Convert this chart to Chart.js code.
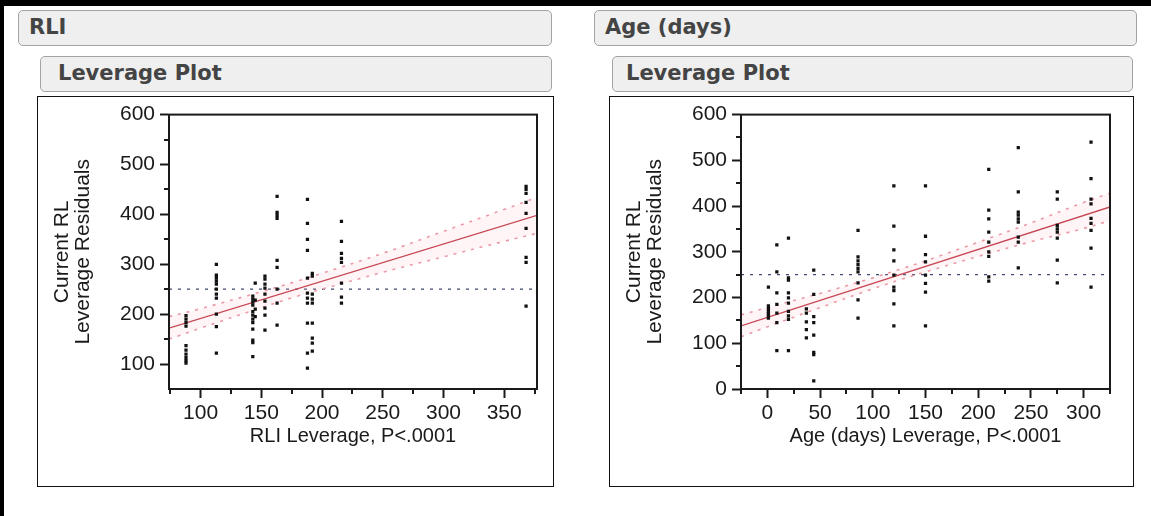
<!DOCTYPE html>
<html>
<head>
<meta charset="utf-8">
<script src="https://cdn.jsdelivr.net/npm/chart.js@4.4.1/dist/chart.umd.min.js"></script>
<style>
  html, body { margin: 0; padding: 0; background: #fff; }
  body { width: 1151px; height: 516px; position: relative; overflow: hidden; }
  .topbar { position: absolute; left: 0; top: 0; width: 1151px; height: 6px; background: #000; }
  .leftbar { position: absolute; left: 0; top: 0; width: 4px; height: 516px; background: #000; }
  .hdr { position: absolute; box-sizing: border-box; height: 36px; background: #efefef; border: 1px solid #a3a3a3;
         border-radius: 5px; font: bold 21px "DejaVu Sans", sans-serif; color: #444; line-height: 33px; }
  .frame { position: absolute; box-sizing: border-box; border: 1px solid #111; background: #fff; }
  .frame canvas { position: absolute; left: 0; top: 0; }
</style>
</head>
<body>
<div class="topbar"></div>
<div class="leftbar"></div>

<div class="hdr" style="left:18px; top:10px; width:534px; padding-left:10px;">RLI</div>
<div class="hdr" style="left:40px; top:56px; width:512px; padding-left:17px;">Leverage Plot</div>
<div class="frame" style="left:37px; top:96px; width:517px; height:391px;">
  <canvas id="rliChart" width="515" height="389"></canvas>
</div>

<div class="hdr" style="left:594px; top:10px; width:543px; padding-left:10px;">Age (days)</div>
<div class="hdr" style="left:612px; top:56px; width:521px; padding-left:13px;">Leverage Plot</div>
<div class="frame" style="left:609px; top:96px; width:525px; height:391px;">
  <canvas id="ageChart" width="523" height="389"></canvas>
</div>

<script>
// RLI leverage plot: x positions of the point columns and the residuals in each column
const rliLev = [88, 113, 143, 145, 153, 163, 188, 192, 216, 368];
const rliResid = [
  [197, 190, 183, 176, 137, 128, 120, 113, 107, 102],
  [300, 278, 272, 266, 260, 250, 240, 232, 200, 175, 122],
  [236, 230, 224, 218, 205, 198, 190, 183, 170, 148, 143, 115],
  [262, 228, 210, 195],
  [276, 270, 260, 252, 240, 226, 212, 198, 168],
  [436, 404, 398, 392, 308, 294, 250, 222, 178],
  [430, 382, 350, 328, 272, 242, 232, 222, 182, 122, 92],
  [282, 276, 240, 230, 222, 182, 152, 142, 126],
  [386, 346, 322, 312, 304, 262, 234, 222],
  [456, 450, 442, 424, 402, 372, 314, 304, 216]
];
const rliFitX = [74, 377];
const rliFitY = [172, 398];
const rliBandX = [74, 100, 150, 178, 200, 250, 300, 350, 377];
const rliUpper = [195, 211, 245, 265, 282, 322, 366, 410, 434];
const rliLower = [150, 172, 213, 235, 250, 284, 315, 346, 362];
const rliXTicks = [100, 150, 200, 250, 300, 350];
const rliXMinor = [75, 125, 175, 225, 275, 325, 375];
const rliYTicks = [100, 200, 300, 400, 500, 600];
const rliYMinor = [150, 250, 350, 450, 550];

// Age (days) leverage plot
const ageLev = [1, 9, 20, 37, 44, 86, 120, 150, 210, 238, 275, 307];
const ageResid = [
  [223, 182, 176, 170, 165, 160, 155],
  [315, 256, 210, 185, 166, 145, 84],
  [330, 243, 238, 210, 199, 188, 170, 160, 152, 84],
  [175, 166, 147, 130, 112],
  [260, 207, 158, 145, 118, 80, 75, 18],
  [347, 289, 280, 272, 264, 256, 232, 195, 155],
  [444, 356, 304, 280, 249, 223, 215, 186, 138],
  [444, 334, 294, 278, 249, 231, 212, 138],
  [480, 391, 372, 343, 321, 300, 290, 245, 236],
  [528, 431, 387, 380, 372, 365, 332, 321, 265],
  [431, 415, 358, 350, 343, 330, 282, 232],
  [540, 460, 415, 405, 373, 362, 347, 308, 223]
];
const ageFitX = [-25, 325];
const ageFitY = [138, 398];
const ageBandX = [-25, 0, 50, 100, 126, 150, 200, 250, 300, 325];
const ageUpper = [162, 178, 209, 243, 262, 280, 321, 363, 408, 428];
const ageLower = [114, 136, 178, 219, 239, 256, 290, 322, 351, 368];
const ageXTicks = [0, 50, 100, 150, 200, 250, 300];
const ageXMinor = [-25, 25, 75, 125, 175, 225, 275, 325];
const ageYTicks = [0, 100, 200, 300, 400, 500, 600];
const ageYMinor = [50, 150, 250, 350, 450, 550];

// mean of the residuals (horizontal reference line)
const meanResid = 250;

Chart.defaults.font.family = '"Liberation Sans", Arial, sans-serif';
Chart.defaults.color = '#1a1a1a';

// short minor ticks + box round the plot area
const frameAndMinor = {
  id: 'frameAndMinor',
  afterDraw(chart, args, opts) {
    const {ctx, chartArea: a, scales: {x, y}} = chart;
    ctx.save();
    ctx.strokeStyle = '#1a1a1a';
    ctx.lineWidth = 2;
    ctx.strokeRect(a.left, a.top, a.right - a.left, a.bottom - a.top);
    ctx.beginPath();
    opts.x.forEach(v => {
      const px = Math.round(x.getPixelForValue(v));
      ctx.moveTo(px, a.bottom);
      ctx.lineTo(px, a.bottom + 5);
    });
    opts.y.forEach(v => {
      const py = Math.round(y.getPixelForValue(v));
      ctx.moveTo(a.left, py);
      ctx.lineTo(a.left - 5, py);
    });
    ctx.stroke();
    ctx.restore();
  }
};

const xy = (xs, ys) => xs.map((x, i) => ({x: x, y: ys[i]}));

function leveragePlot(id, c) {
  const points = c.lev.flatMap((x, i) => c.resid[i].map(y => ({x: x, y: y})));
  const axisStyle = {
    border: { display: true, color: '#1a1a1a', width: 2 },
    grid: { drawOnChartArea: false, drawTicks: true, tickLength: 9, tickColor: '#1a1a1a', tickWidth: 2 },
  };
  return new Chart(document.getElementById(id), {
    type: 'scatter',
    data: {
      datasets: [
        { data: points, pointStyle: 'rect', pointRadius: 2.3, backgroundColor: '#111', borderWidth: 0 },
        { type: 'line', data: xy(c.fitX, c.fitY), borderColor: '#c64855', borderWidth: 1.3, pointRadius: 0 },
        { type: 'line', data: xy(c.bandX, c.upper), borderColor: '#e99aa6', borderWidth: 1.6, borderDash: [3, 6],
          pointRadius: 0, tension: 0.4, fill: '+1', backgroundColor: 'rgba(255,180,192,0.14)' },
        { type: 'line', data: xy(c.bandX, c.lower), borderColor: '#e99aa6', borderWidth: 1.6, borderDash: [3, 6],
          pointRadius: 0, tension: 0.4 },
        { type: 'line', data: [{x: c.xMin, y: meanResid}, {x: c.xMax, y: meanResid}], borderColor: '#3f4a70',
          borderWidth: 1.3, borderDash: [3, 6], pointRadius: 0 }
      ]
    },
    options: {
      responsive: false,
      animation: false,
      layout: { padding: { top: 17, right: c.padRight, left: 0, bottom: 0 } },
      plugins: {
        legend: { display: false },
        tooltip: { enabled: false },
        frameAndMinor: { x: c.xMinor, y: c.yMinor }
      },
      scales: {
        x: {
          type: 'linear', min: c.xMin, max: c.xMax, ...axisStyle,
          afterBuildTicks: s => { s.ticks = c.xTicks.map(v => ({value: v})); },
          afterFit: s => { s.height = 97; },
          ticks: { font: { size: 21 }, color: '#1a1a1a', padding: 3 },
          title: { display: true, text: c.xTitle, color: '#1a1a1a', font: { size: 20 }, padding: { top: 0, bottom: 38 } }
        },
        y: {
          type: 'linear', min: c.yMin, max: 600, ...axisStyle,
          afterBuildTicks: s => { s.ticks = c.yTicks.map(v => ({value: v})); },
          afterFit: s => { s.width = 131; },
          ticks: { font: { size: 21 }, color: '#1a1a1a', padding: 5 },
          title: { display: true, text: ['Current RL', 'Leverage Residuals'], color: '#1a1a1a',
                   font: { size: 21, lineHeight: 1.0 }, padding: { top: 14, bottom: 0 } }
        }
      }
    },
    plugins: [frameAndMinor]
  });
}

leveragePlot('rliChart', {
  lev: rliLev, resid: rliResid, fitX: rliFitX, fitY: rliFitY,
  bandX: rliBandX, upper: rliUpper, lower: rliLower,
  xMin: 74, xMax: 377, yMin: 50, padRight: 16,
  xTicks: rliXTicks, xMinor: rliXMinor, yTicks: rliYTicks, yMinor: rliYMinor,
  xTitle: 'RLI Leverage, P<.0001'
});

leveragePlot('ageChart', {
  lev: ageLev, resid: ageResid, fitX: ageFitX, fitY: ageFitY,
  bandX: ageBandX, upper: ageUpper, lower: ageLower,
  xMin: -25, xMax: 325, yMin: 0, padRight: 23,
  xTicks: ageXTicks, xMinor: ageXMinor, yTicks: ageYTicks, yMinor: ageYMinor,
  xTitle: 'Age (days) Leverage, P<.0001'
});
</script>
</body>
</html>
